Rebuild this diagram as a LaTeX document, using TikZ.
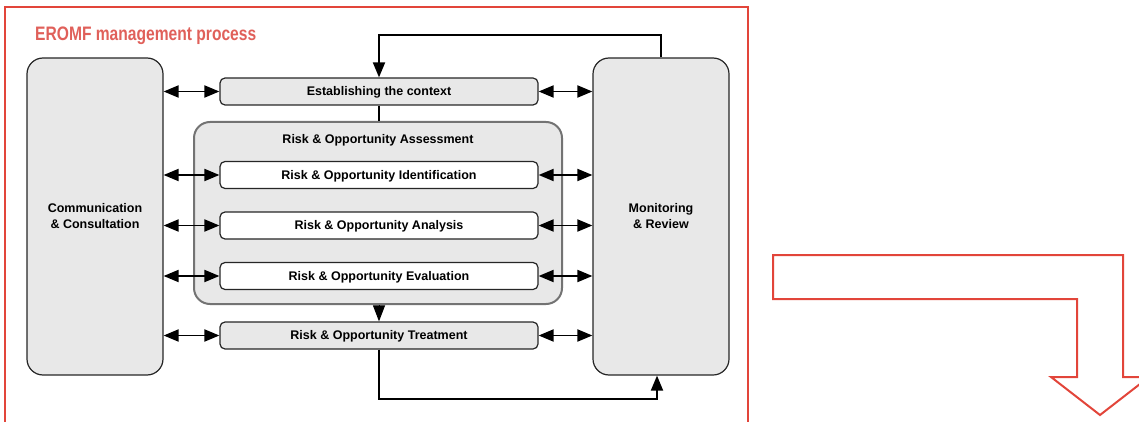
\documentclass[tikz,border=0pt]{standalone}
\usepackage{fontspec}
\setmainfont{Liberation Sans}
\usetikzlibrary{arrows.meta}
\definecolor{boxfill}{HTML}{E8E8E8}
\definecolor{frame}{HTML}{E2453A}
\definecolor{titlered}{HTML}{E0605A}
\begin{document}
\begin{tikzpicture}[x=1pt,y=-1pt,
  base/.style={draw=black!85,line width=1.2pt,rounded corners=5pt,font=\fontsize{12.5}{16}\selectfont\bfseries,align=center,inner sep=0pt},
  bigbox/.style={base,fill=boxfill,rounded corners=16pt,minimum width=136pt,minimum height=317pt},
  graybar/.style={base,fill=boxfill,minimum width=318pt,minimum height=27pt,text height=9pt,text depth=1pt},
  whitebar/.style={base,fill=white,minimum width=318pt,minimum height=27pt,text height=9pt,text depth=1pt},
  groupbox/.style={draw=black!55,line width=2pt,fill=boxfill,rounded corners=16pt,minimum width=368pt,minimum height=182pt,inner sep=0pt},
  dbl/.style={line width=1.9pt,{Triangle[length=15pt,width=12pt]}-{Triangle[length=15pt,width=12pt]}},
  flow/.style={line width=1.9pt,-{Triangle[length=15pt,width=12pt]}},
  plain/.style={line width=1.9pt}
]
\useasboundingbox (0,0) rectangle (1139,422);
\clip (0,0) rectangle (1139,422);
% red frame
\draw[frame,line width=2pt] (5,430) -- (5,7) -- (748,7) -- (748,430);
\node[anchor=west,text=titlered,font=\fontsize{19.5}{22}\selectfont\bfseries,inner sep=0pt] (title) at (35,35.5) {\scalebox{0.8}[1]{EROMF management process}};
% boxes
\node[bigbox] (comm) at (95,216.5) {Communication\\\& Consultation};
\node[bigbox] (mon) at (661,216.5) {Monitoring\\\& Review};
\node[graybar] (est) at (379,91.5) {Establishing the context};
\node[groupbox] (assess) at (378,213) {};
\node[font=\fontsize{12.5}{14}\selectfont\bfseries,inner sep=0pt,text height=9pt,text depth=1pt] (assesstitle) at (378,140) {Risk \& Opportunity Assessment};
\node[whitebar] (ident) at (379,175) {Risk \& Opportunity Identification};
\node[whitebar] (anal) at (379,225.5) {Risk \& Opportunity Analysis};
\node[whitebar] (eval) at (379,276) {Risk \& Opportunity Evaluation};
\node[graybar] (treat) at (379,335.5) {Risk \& Opportunity Treatment};
% double arrows
\foreach \n in {est,ident,anal,eval,treat}{
  \draw[dbl] (comm.east |- \n) -- (\n.west);
  \draw[dbl] (\n.east) -- (mon.west |- \n);
}
% vertical links
\draw[plain] (est.south) -- (est.south |- assess.north);
\draw[line width=1pt,-{Triangle[length=16pt,width=12pt]}] (est.south |- assess.south) -- (treat.north);
\draw[flow] (mon.north) -- ++(0,-22) -| (est.north);
\coordinate (monb) at ([xshift=-4pt]mon.south);
\draw[flow] (treat.south) -- ++(0,49) -| (monb);
% red bent arrow
\draw[frame,line width=2pt,line join=miter] (773,255) -- (1123,255) -- (1123,377) -- (1149,377) -- (1100,415) -- (1051,377) -- (1077,377) -- (1077,299) -- (773,299) -- cycle;
\end{tikzpicture}
\end{document}
